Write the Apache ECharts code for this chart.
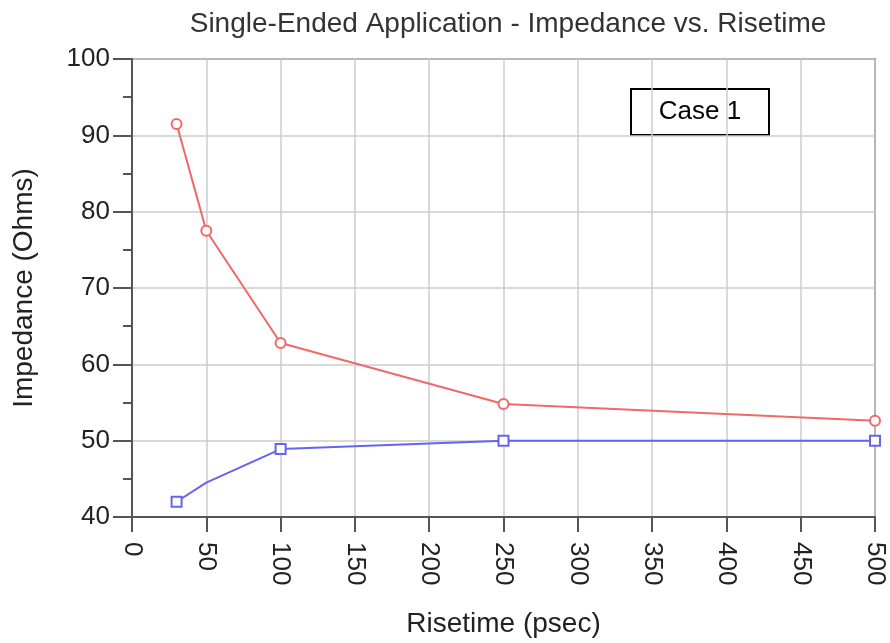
<!DOCTYPE html>
<html>
<head>
<meta charset="utf-8">
<script src="https://cdn.jsdelivr.net/npm/echarts@6/dist/echarts.min.js"></script>
<style>html,body{margin:0;padding:0;background:#fff}#c{width:890px;height:643px}</style>
</head>
<body>
<div id="c"></div>
<script>
var risetime = [30, 50, 100, 250, 500];
var redImpedance = [91.5, 77.5, 62.8, 54.8, 52.6];
var blueImpedance = [42.0, 44.5, 48.9, 50.0, 50.0];
var blueMarked = [true, false, true, true, true];
var xTicks = [0, 50, 100, 150, 200, 250, 300, 350, 400, 450, 500];
var yTicks = [40, 50, 60, 70, 80, 90, 100];

var FONT = '"Liberation Sans", Arial, sans-serif';
var chart = echarts.init(document.getElementById('c'));

var redData = risetime.map(function (x, i) { return [x, redImpedance[i]]; });
var blueData = risetime.map(function (x, i) {
  var d = { value: [x, blueImpedance[i]] };
  if (!blueMarked[i]) d.symbol = 'none';
  return d;
});

chart.setOption({
  backgroundColor: '#ffffff',
  animation: false,
  title: {
    text: 'Single-Ended Application - Impedance vs. Risetime',
    left: 503,
    textAlign: 'center',
    top: 5,
    textStyle: { fontFamily: FONT, fontSize: 28, fontWeight: 'normal', color: '#333333' }
  },
  grid: {
    left: 132, right: 15, top: 59, bottom: 123,
    show: true, borderColor: '#777777', borderWidth: 2, backgroundColor: 'transparent'
  },
  xAxis: {
    type: 'value',
    min: xTicks[0], max: xTicks[xTicks.length - 1], interval: 50,
    name: 'Risetime (psec)',
    nameLocation: 'middle',
    nameGap: 93,
    nameTextStyle: { fontFamily: FONT, fontSize: 28, color: '#222222' },
    axisLine: { show: true, onZero: false, lineStyle: { color: '#555555', width: 2 } },
    axisTick: { show: true, length: 15, lineStyle: { color: '#555555', width: 2 } },
    axisLabel: { rotate: -90, margin: 25, fontFamily: FONT, fontSize: 26, color: '#222222' },
    splitLine: { show: true, lineStyle: { color: '#cccccc', width: 1.5 } }
  },
  yAxis: {
    type: 'value',
    min: yTicks[0], max: yTicks[yTicks.length - 1], interval: 10,
    name: 'Impedance (Ohms)',
    nameLocation: 'middle',
    nameGap: 94,
    nameTextStyle: { fontFamily: FONT, fontSize: 28, color: '#222222' },
    axisLine: { show: true, onZero: false, lineStyle: { color: '#555555', width: 2 } },
    axisTick: { show: true, length: 19, lineStyle: { color: '#555555', width: 2 } },
    minorTick: { show: true, splitNumber: 2, length: 9, lineStyle: { color: '#555555', width: 2 } },
    axisLabel: { margin: 22, fontFamily: FONT, fontSize: 26, color: '#222222' },
    splitLine: { show: true, lineStyle: { color: '#cccccc', width: 1.5 } }
  },
  series: [
    {
      type: 'line',
      data: redData,
      symbol: 'emptyCircle',
      symbolSize: 10,
      lineStyle: { color: '#f06868', width: 2 },
      itemStyle: { color: '#f06868', borderColor: '#f06868', borderWidth: 1.5 }
    },
    {
      type: 'line',
      data: blueData,
      symbol: 'emptyRect',
      symbolSize: 10,
      lineStyle: { color: '#6464f0', width: 2 },
      itemStyle: { color: '#6464f0', borderColor: '#6464f0', borderWidth: 1.5 }
    }
  ],
  graphic: [
    {
      type: 'group',
      left: 630,
      top: 88,
      children: [
        { type: 'rect', shape: { x: 0, y: 0, width: 138, height: 46 },
          style: { fill: '#ffffff', stroke: '#000000', lineWidth: 2 } },
        { type: 'text', x: 69, y: 23,
          style: { text: 'Case 1', fontFamily: FONT, fontSize: 26, fill: '#000000',
                   align: 'center', verticalAlign: 'middle' } }
      ]
    }
  ]
});
</script>
</body>
</html>
